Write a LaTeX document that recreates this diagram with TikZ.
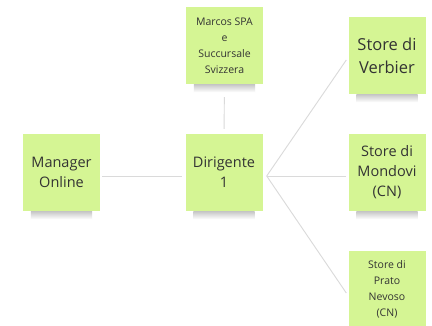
\documentclass[tikz,border=0pt]{standalone}
\usepackage{fontspec}
\setmainfont{Open Sans}
\definecolor{sticky}{HTML}{D5F594}
\definecolor{txt}{HTML}{333333}
\definecolor{conn}{HTML}{DADADA}
\tikzset{
  note/.style={rectangle, fill=sticky, minimum width=77pt, minimum height=77pt, inner sep=2pt, align=center, text=txt},
  bigtxt/.style={font=\fontsize{14.5}{20}\selectfont},
  hugetxt/.style={font=\fontsize{16.5}{23}\selectfont},
  smalltxt/.style={font=\fontsize{10.5}{16}\selectfont},
  conline/.style={draw=conn, line width=0.9pt},
}
\begin{document}
\begin{tikzpicture}[x=1pt,y=-1pt]
\useasboundingbox (0,0) rectangle (432,325);
\clip (0,0) rectangle (432,325);
\fill[white] (0,0) rectangle (432,325);
\node[note, smalltxt] (marcos) at (224.5,45.5) {Marcos SPA\\e\\Succursale\\Svizzera};
\node[note, hugetxt] (verbier) at (387,55.5) {Store di\\Verbier};
\node[note, bigtxt] (manager) at (61.5,172.5) {Manager\\Online};
\node[note, bigtxt] (dirig) at (224,172.5) {Dirigente\\1};
\node[note, bigtxt] (mondovi) at (387,172.5) {Store di\\Mondovi\\(CN)};
\node[note, smalltxt] (prato) at (387,289.5) {Store di\\Prato\\Nevoso\\(CN)};
\foreach \n in {marcos,verbier,manager,dirig,mondovi} {
  \shade[top color=gray!45, middle color=gray!85, bottom color=white]
    ([xshift=8pt]\n.south west) rectangle ([xshift=-8pt,yshift=-8pt]\n.south east);
}
\coordinate (dsrc) at ([xshift=4pt,yshift=-3.5pt]dirig.east);
\draw[conline, shorten <=2pt, shorten >=3pt] ([yshift=-3.5pt]manager.east) -- ([yshift=-3.5pt]dirig.west);
\draw[conline, shorten <=13pt, shorten >=5pt] (marcos.south) -- (dirig.north);
\draw[conline] (dsrc) -- ([xshift=-2pt,yshift=-4.5pt]verbier.west);
\draw[conline] (dsrc) -- ([xshift=-2pt,yshift=-3.5pt]mondovi.west);
\draw[conline] (dsrc) -- ([xshift=-2pt,yshift=-3.5pt]prato.west);
\end{tikzpicture}
\end{document}
